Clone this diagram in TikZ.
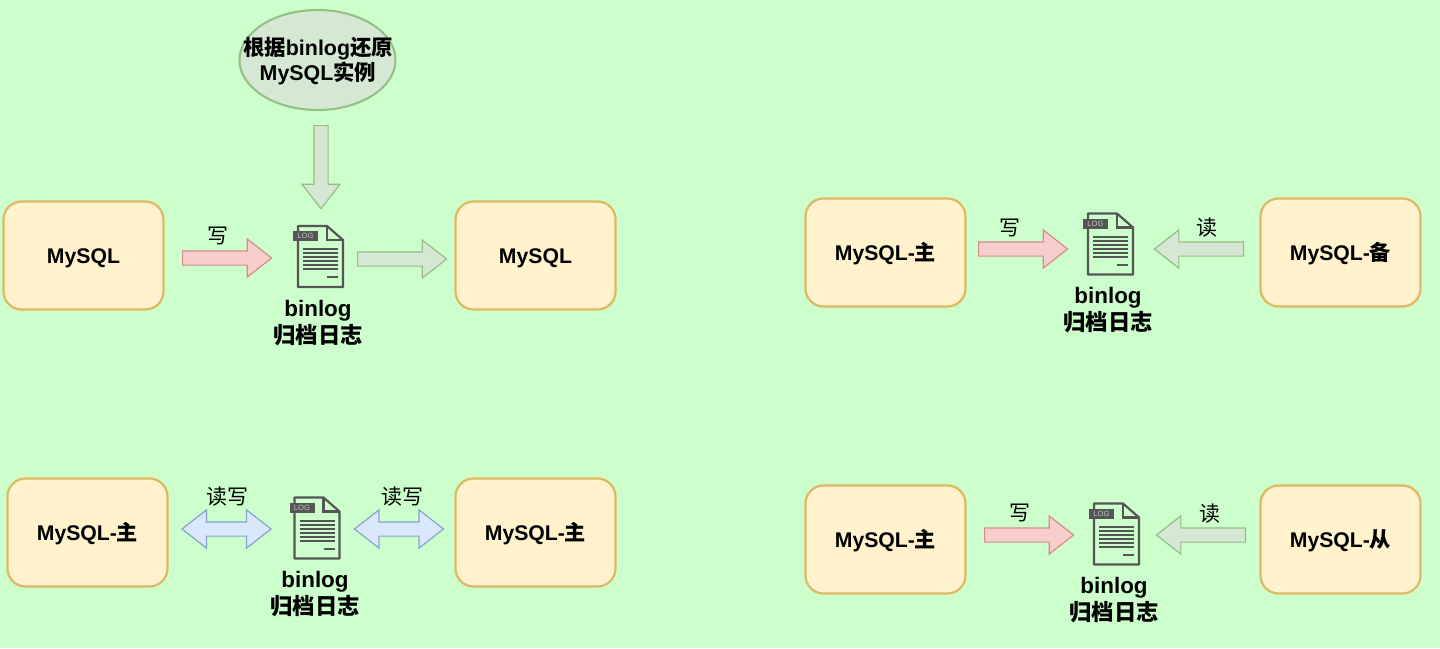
\documentclass[tikz,border=0pt]{standalone}
\usepackage{fontspec}
\setmainfont{Liberation Sans}
\newfontfamily\cjk{Noto Sans CJK SC}
\usetikzlibrary{positioning,shapes.geometric,shapes.arrows}
\definecolor{bgcol}{HTML}{CCFFCC}
\definecolor{boxfill}{HTML}{FFF2CC}
\definecolor{boxline}{HTML}{E0B860}
\definecolor{greenfill}{HTML}{D5E8D4}
\definecolor{greenline}{HTML}{94BE84}
\definecolor{redfill}{HTML}{F8CECC}
\definecolor{redline}{HTML}{D88C8A}
\definecolor{bluefill}{HTML}{DAE8FC}
\definecolor{blueline}{HTML}{86A3CC}
\definecolor{doccol}{HTML}{555555}
\tikzset{db/.style={draw=boxline,fill=boxfill,line width=1.1pt,rounded corners=9pt,minimum width=80pt,minimum height=54pt,inner sep=0pt,text height=7.5pt,text depth=0pt,font=\bfseries\fontsize{10.6}{13}\selectfont},
         binlog/.style={align=center,inner sep=0pt,font=\bfseries\fontsize{11.2}{13.5}\selectfont},
         lbl/.style={inner sep=0pt,font=\cjk\fontsize{10.5}{13}\selectfont},
         onearrow/.style={single arrow,draw,line width=0.6pt,inner xsep=0pt,inner ysep=3.25pt,minimum width=19pt,minimum height=44.5pt,single arrow head extend=6pt,single arrow tip angle=76,anchor=tail},
         twoarrow/.style={double arrow,draw=blueline,fill=bluefill,line width=0.6pt,inner xsep=0pt,inner ysep=3.25pt,minimum width=19pt,minimum height=44.5pt,double arrow head extend=6pt,double arrow tip angle=76},
         red/.style={onearrow,draw=redline,fill=redfill},
         green/.style={onearrow,draw=greenline,fill=greenfill},
         logdoc/.pic={
           \draw[doccol,line width=1.1pt,line join=round] (-22.5,-30.5)--(6.5,-30.5)--(22.5,-16.5)--(22.5,30.5)--(-22.5,30.5)--cycle;
           \draw[doccol,line width=1.1pt] (6.5,-30.5)--(6.5,-16.5)--(22.5,-16.5);
           \fill[doccol] (-27.5,-25.5) rectangle (-2.5,-15.5);
           \node[text=white!65!doccol,font=\fontsize{3.8}{4}\selectfont,inner sep=0pt] at (-15,-20.5) {LOG};
           \foreach \ly in {-7.5,-3.5,0.5,4.5,8.5,12.5} {
             \draw[doccol,line width=1pt] (-17.5,\ly)--(17.5,\ly);
           }
           \draw[doccol,line width=1pt] (6.5,20.5)--(17.5,20.5);
         }
}
\begin{document}
\begin{tikzpicture}[x=0.5pt,y=-0.5pt]

\fill[bgcol] (0,0) rectangle (1440,648);
\useasboundingbox (0,0) rectangle (1440,648);

% top left
\node[ellipse,draw=greenline,fill=greenfill,line width=1pt,minimum width=78pt,minimum height=50pt,inner sep=0pt] (restore) at (317.5,60) {};
\node[binlog,font=\bfseries\fontsize{10.7}{12.5}\selectfont] (restoretxt) at (318,61) {{\cjk 根据}binlog{\cjk 还原}\\MySQL{\cjk 实例}};
\node[green,shape border rotate=270,inner sep=3.25pt,minimum height=41.5pt] (restorearrow) at (321,125) {};
\node[db] (mysqla) at (83.5,255.5) {MySQL};
\node[db] (mysqlb) at (535.5,255.5) {MySQL};
\node[red] (writea) at (182,258) {};
\node[lbl] (writelbla) at (218,236) {写};
\pic at (320.5,256.5) {logdoc};
\node[green] (reada) at (357,259) {};
\node[binlog] (binloga) at (318,323) {binlog\\{\cjk 归档日志}};

% top right
\node[db] (mastera) at (885.5,252.5) {MySQL-{\cjk 主}};
\node[db] (backup) at (1340.5,252.5) {MySQL-{\cjk 备}};
\node[red] (writeb) at (978,249) {};
\node[lbl] (writelblb) at (1010,228) {写};
\pic at (1110.5,244) {logdoc};
\node[green,shape border rotate=180] (readb) at (1244,249) {};
\node[lbl] (readlblb) at (1207,228) {读};
\node[binlog] (binlogb) at (1108,310) {binlog\\{\cjk 归档日志}};

% bottom left
\node[db] (masterb) at (87.5,532.5) {MySQL-{\cjk 主}};
\node[db] (masterc) at (535.5,532.5) {MySQL-{\cjk 主}};
\node[twoarrow] (rwa) at (226.5,529) {};
\node[twoarrow] (rwb) at (399,529) {};
\node[lbl] (rwlbla) at (227,497) {读写};
\node[lbl] (rwlblb) at (402,497) {读写};
\pic at (317,528) {logdoc};
\node[binlog] (binlogc) at (315,594) {binlog\\{\cjk 归档日志}};

% bottom right
\node[db] (masterd) at (885.5,539.5) {MySQL-{\cjk 主}};
\node[db] (slave) at (1340.5,539.5) {MySQL-{\cjk 从}};
\node[red] (writec) at (984,535) {};
\node[lbl] (writelblc) at (1020,513) {写};
\pic at (1116.5,534) {logdoc};
\node[green,shape border rotate=180] (readc) at (1246,535) {};
\node[lbl] (readlblc) at (1210,514) {读};
\node[binlog] (binlogd) at (1114,600) {binlog\\{\cjk 归档日志}};

\end{tikzpicture}
\end{document}
